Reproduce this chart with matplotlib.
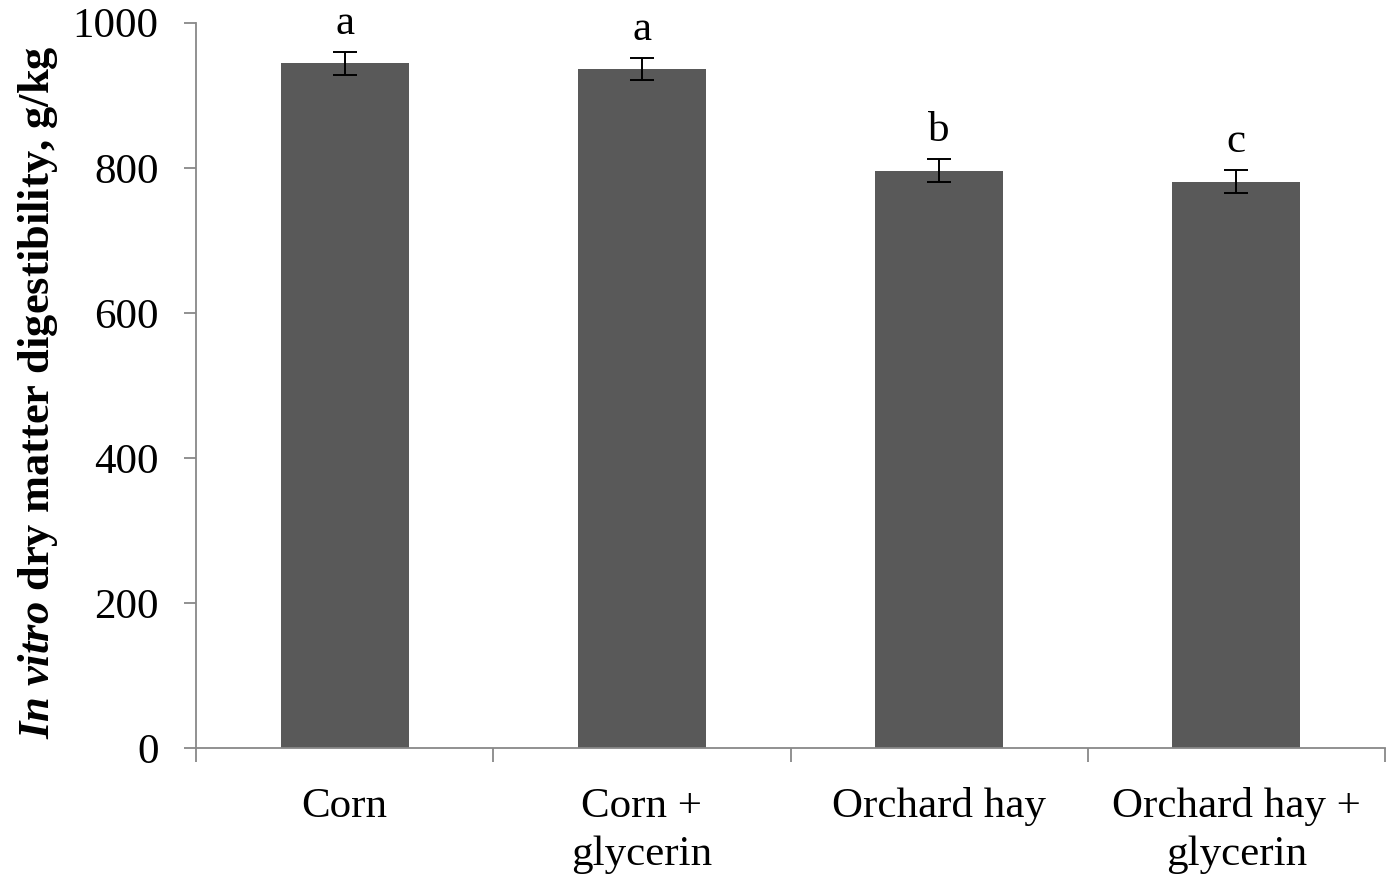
import matplotlib
matplotlib.use("Agg")
import matplotlib.pyplot as plt
import numpy as np

# Treatment groups and in vitro dry matter digestibility (g/kg)
categories = ["Corn", "Corn +\nglycerin", "Orchard hay", "Orchard hay +\nglycerin"]
ivdmd = [944, 936, 796, 781]
sem = [16, 15.5, 15.5, 15.5]
letters = ["a", "a", "b", "c"]
yticks = [0, 200, 400, 600, 800, 1000]

plt.rcParams["font.family"] = ["Liberation Serif", "DejaVu Serif"]
plt.rcParams["mathtext.fontset"] = "custom"
plt.rcParams["mathtext.rm"] = "Liberation Serif"
plt.rcParams["mathtext.it"] = "Liberation Serif:italic"
plt.rcParams["mathtext.bf"] = "Liberation Serif:bold"
plt.rcParams["mathtext.bfit"] = "Liberation Serif:italic:bold"

fig = plt.figure(figsize=(13.92, 8.77), dpi=100)
ax = fig.add_axes([0.1408, 0.1468, 0.8542, 0.8273])

x = np.arange(len(categories))
ax.bar(x, ivdmd, width=0.43, color="#595959", zorder=2)
ax.errorbar(x, ivdmd, yerr=sem, fmt="none", ecolor="black",
            elinewidth=1.4, capsize=8.5, capthick=1.4, zorder=3)

for xi, v, e, lab in zip(x, ivdmd, sem, letters):
    ax.annotate(lab, xy=(xi, v + e), xytext=(0, 13), textcoords="offset points",
                ha="center", va="baseline", fontsize=31)

ax.set_xlim(-0.5, len(categories) - 0.5)
ax.set_ylim(0, 1000)
ax.set_yticks(yticks)
ax.tick_params(axis="y", labelsize=31, length=9, width=1.3, color="#888888",
               direction="out", pad=18)

# Category labels centred on bars, tick marks at group boundaries
ax.set_xticks(x)
ax.set_xticklabels(categories, fontsize=31, linespacing=1.33)
ax.tick_params(axis="x", which="major", length=0, pad=28)
ax.set_xticks(np.arange(len(categories) + 1) - 0.5, minor=True)
ax.tick_params(axis="x", which="minor", length=10, width=1.3,
               color="#888888", direction="out")

for side in ["top", "right"]:
    ax.spines[side].set_visible(False)
for side in ["left", "bottom"]:
    ax.spines[side].set_color("#888888")
    ax.spines[side].set_linewidth(1.3)

ax.set_ylabel(r"$\mathbfit{In\ vitro}$ dry matter digestibility, g/kg",
              fontsize=32, fontweight="bold")
ax.yaxis.set_label_coords(-0.114, 0.491)

fig.savefig("out.png", dpi=100)
